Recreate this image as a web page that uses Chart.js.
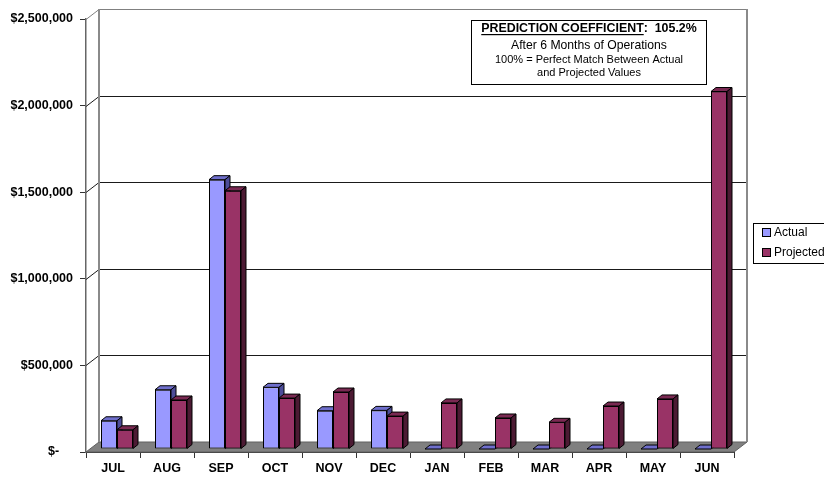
<!DOCTYPE html>
<html>
<head>
<meta charset="utf-8">
<script src="https://cdn.jsdelivr.net/npm/chart.js@4/dist/chart.umd.min.js"></script>
<style>
  html, body { margin: 0; padding: 0; background: #fff; }
  #chart { display: block; }
</style>
</head>
<body>
<canvas id="chart" width="824" height="477"></canvas>
<script>
// ===== data =====
const months = ['JUL', 'AUG', 'SEP', 'OCT', 'NOV', 'DEC', 'JAN', 'FEB', 'MAR', 'APR', 'MAY', 'JUN'];
const actual = [163000, 342000, 1555000, 356000, 221000, 223000, 0, 0, 0, 0, 0, 0];
const projected = [111000, 283000, 1491000, 294000, 329000, 190000, 266000, 179000, 154000, 248000, 289000, 2064000];
const yTicks = [0, 500000, 1000000, 1500000, 2000000, 2500000];
const seriesNames = ['Actual', 'Projected'];
const coefficient = '105.2%';

const FONT = "'Liberation Sans', Arial, sans-serif";

// colours of the three visible faces (front / top / side)
const faces = [
    { front: '#9999FF', top: '#6F6FCC', side: '#4D4D99' },
    { front: '#993366', top: '#7A2952', side: '#4C1A33' }
];

// 3D offsets
const WALL_DX = 13, WALL_DY = -10;   // depth of the floor / side wall
const BAR_DX = 4, BAR_DY = -3;       // where the bars stand inside the floor
const TOP_DX = 5, TOP_DY = -4;       // depth of one bar

function poly(ctx, pts, fill, stroke) {
    ctx.beginPath();
    ctx.moveTo(pts[0][0], pts[0][1]);
    for (let i = 1; i < pts.length; i++) ctx.lineTo(pts[i][0], pts[i][1]);
    ctx.closePath();
    if (fill) { ctx.fillStyle = fill; ctx.fill(); }
    if (stroke) { ctx.strokeStyle = stroke; ctx.lineWidth = 1; ctx.stroke(); }
}

// back wall, side wall gridlines and floor
const wallPlugin = {
    id: 'wall',
    beforeDatasetsDraw(chart) {
        const { ctx, chartArea: a, scales: { y } } = chart;
        ctx.save();
        // floor
        const y0 = y.getPixelForValue(0);
        poly(ctx, [[a.left, y0], [a.right, y0], [a.right + WALL_DX, y0 + WALL_DY], [a.left + WALL_DX, y0 + WALL_DY]], '#808080', '#606060');
        // gridlines
        yTicks.forEach(v => {
            if (v === 0) return;
            const py = Math.round(y.getPixelForValue(v)) + 0.5;
            const top = v === yTicks[yTicks.length - 1];
            ctx.strokeStyle = top ? '#808080' : '#1a1a1a';
            ctx.lineWidth = 1;
            ctx.beginPath();
            ctx.moveTo(a.left, py);
            ctx.lineTo(a.left + WALL_DX, py + WALL_DY);
            ctx.lineTo(a.right + WALL_DX, py + WALL_DY);
            ctx.stroke();
        });
        // wall edges
        const yt = Math.round(y.getPixelForValue(yTicks[yTicks.length - 1])) + WALL_DY;
        ctx.strokeStyle = '#8a8a8a';
        ctx.lineWidth = 2;
        ctx.beginPath();
        ctx.moveTo(a.left + WALL_DX, yt);
        ctx.lineTo(a.left + WALL_DX, y0 + WALL_DY);
        ctx.moveTo(a.right + WALL_DX, yt);
        ctx.lineTo(a.right + WALL_DX, y0 + WALL_DY);
        ctx.stroke();
        ctx.restore();

        // bars stand a little back inside the floor
        ctx.save();
        ctx.translate(BAR_DX, BAR_DY);
    },
    afterDatasetsDraw(chart) {
        const ctx = chart.ctx;
        const metas = [chart.getDatasetMeta(0), chart.getDatasetMeta(1)];
        for (let i = 0; i < months.length; i++) {
            metas.forEach((meta, d) => {
                const bar = meta.data[i];
                if (d > 0) bar.draw(ctx); // redraw so it covers the side of the previous bar
                const p = bar.getProps(['x', 'y', 'base', 'width'], true);
                const x0 = p.x - p.width / 2, x1 = p.x + p.width / 2;
                const yt = Math.min(p.y, p.base), yb = Math.max(p.y, p.base);
                // top face
                poly(ctx, [[x0, yt], [x1, yt], [x1 + TOP_DX, yt + TOP_DY], [x0 + TOP_DX, yt + TOP_DY]], faces[d].top, '#000');
                // side face
                if (yb - yt > 0.5) {
                    poly(ctx, [[x1, yt], [x1 + TOP_DX, yt + TOP_DY], [x1 + TOP_DX, yb + TOP_DY], [x1, yb]], faces[d].side, '#000');
                }
            });
        }
        ctx.restore();
    }
};

// legend and the prediction note
const notePlugin = {
    id: 'note',
    afterDraw(chart) {
        const ctx = chart.ctx;
        ctx.save();
        // legend
        ctx.fillStyle = '#fff';
        ctx.fillRect(753.5, 223.5, 90, 40);
        ctx.strokeStyle = '#000';
        ctx.lineWidth = 1;
        ctx.strokeRect(753.5, 223.5, 90, 40);
        ctx.font = '12px ' + FONT;
        ctx.textBaseline = 'middle';
        seriesNames.forEach((name, i) => {
            const cy = 233 + i * 20;
            ctx.fillStyle = faces[i].front;
            ctx.fillRect(762.5, cy - 4.5, 8, 8);
            ctx.strokeRect(762.5, cy - 4.5, 8, 8);
            ctx.fillStyle = '#000';
            ctx.fillText(name, 774, cy);
        });

        // prediction box
        ctx.fillStyle = '#fff';
        ctx.fillRect(471.5, 20.5, 235, 64);
        ctx.strokeRect(471.5, 20.5, 235, 64);
        const cx = 589;
        ctx.fillStyle = '#000';
        ctx.textAlign = 'left';
        ctx.font = 'bold 12.4px ' + FONT;
        const head = 'PREDICTION COEFFICIENT';
        const rest = ':  ' + coefficient;
        const wHead = ctx.measureText(head).width;
        const wAll = wHead + ctx.measureText(rest).width;
        const sx = cx - wAll / 2;
        ctx.fillText(head, sx, 29);
        ctx.fillText(rest, sx + wHead, 29);
        ctx.fillRect(sx, 34, wHead, 1.2);
        ctx.textAlign = 'center';
        ctx.font = '12.2px ' + FONT;
        ctx.fillText('After 6 Months of Operations', cx, 45.5);
        ctx.font = '11px ' + FONT;
        ctx.fillText('100% = Perfect Match Between Actual', cx, 60);
        ctx.fillText('and Projected Values', cx, 73);
        ctx.restore();
    }
};

function money(v) {
    if (v === 0) return '$-    ';
    return '$' + v.toLocaleString('en-US');
}

new Chart(document.getElementById('chart'), {
    type: 'bar',
    data: {
        labels: months,
        datasets: [
            { label: seriesNames[0], data: actual, backgroundColor: faces[0].front },
            { label: seriesNames[1], data: projected, backgroundColor: faces[1].front }
        ]
    },
    options: {
        responsive: false,
        animation: false,
        devicePixelRatio: 1,
        layout: { padding: { top: 19, right: 90, bottom: 0, left: 0 } },
        datasets: {
            bar: {
                categoryPercentage: 32 / 54,
                barPercentage: 1,
                borderColor: '#000',
                borderWidth: 1,
                borderSkipped: false
            }
        },
        plugins: {
            legend: { display: false },
            tooltip: { enabled: false }
        },
        scales: {
            x: {
                afterFit(scale) { scale.height = 25; },
                grid: { offset: true, drawOnChartArea: false, drawTicks: true, tickLength: 6, color: '#333' },
                border: { display: true, color: '#333' },
                ticks: { color: '#000', padding: 3, font: { family: FONT, size: 12.5, weight: 'bold' } }
            },
            y: {
                min: 0,
                max: yTicks[yTicks.length - 1],
                afterFit(scale) { scale.width = 86; },
                afterBuildTicks(scale) { scale.ticks = yTicks.map(v => ({ value: v })); },
                grid: { drawOnChartArea: false, drawTicks: true, tickLength: 6, color: '#333' },
                border: { display: true, color: '#666', width: 1.5 },
                ticks: { color: '#000', padding: 7, font: { family: FONT, size: 12.5, weight: 'bold' }, callback: v => money(v) }
            }
        }
    },
    plugins: [wallPlugin, notePlugin]
});
</script>
</body>
</html>
